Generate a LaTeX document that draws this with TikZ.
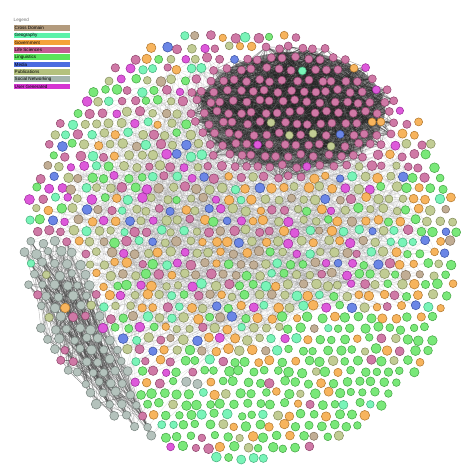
\documentclass[tikz,border=0pt]{standalone}
\usepackage{fontspec}
\setsansfont{Liberation Sans}
\pgfdeclarelayer{paper}
\pgfdeclarelayer{edges}
\pgfsetlayers{paper,edges,main}
\definecolor{cCross}{HTML}{B39B7D}
\definecolor{cGeo}{HTML}{5CF2A9}
\definecolor{cGov}{HTML}{F5A33A}
\definecolor{cLife}{HTML}{C55C92}
\definecolor{cLing}{HTML}{5BE35B}
\definecolor{cMedia}{HTML}{4B6CE0}
\definecolor{cPub}{HTML}{B4C17D}
\definecolor{cSoc}{HTML}{A4B5AD}
\definecolor{cUser}{HTML}{D535D2}
\newcount\nodeK \newcount\cntL \newcount\cntS \newcount\cntC
\newcommand\choosecol[2]{%
  \global\let\ncol\relax
  \foreach \thr/\cc in {#2}{\ifx\ncol\relax\ifdim#1pt<\thr pt\relax\xdef\ncol{\cc}\fi\fi}%
}
\tikzset{
  dot/.style={circle, inner sep=0pt, line width=0.5pt},
  darkedge/.style={draw=black!85, line width=0.35pt, opacity=0.5},
  snedge/.style={draw=black!70, line width=0.35pt, opacity=0.45},
  lightedge/.style={draw=black!45, line width=0.25pt, opacity=0.3},
  legbar/.style={anchor=west, minimum width=56pt, minimum height=5.5pt, inner sep=0pt},
  legtext/.style={font=\sffamily\fontsize{4.6}{5}\selectfont, anchor=west, inner sep=0pt}
}
\begin{document}
\begin{tikzpicture}[x=10pt,y=-10pt]
\begin{pgfonlayer}{paper}
\fill[white] (0,0) rectangle (47.4,46.8);
\end{pgfonlayer}
\useasboundingbox (0,0) rectangle (47.4,46.8);
\pgfmathsetseed{11}
\foreach \j in {0,...,41}{
 \foreach \i in {0,...,37}{
  \pgfmathsetmacro{\px}{1.7+\i*1.24+mod(\j,2)*0.62+0.22*rand}
  \pgfmathsetmacro{\py}{2.6+\j*1.08+0.18*rand}
  \pgfmathsetmacro{\dd}{(\px-24)^2+(\py-24.4)^2}
  \ifdim\dd pt<470pt\relax
    \pgfmathsetmacro{\rr}{rnd}
    \pgfmathsetmacro{\ellv}{((\px-29.3)/10.6)^2+((\py-11)/6.9)^2}
    \pgfmathsetmacro{\snb}{7.8+(\py-24)*0.4}
    \def\reg{0}%
    \ifdim\ellv pt<1pt\relax \def\reg{1}\else
      \ifdim\py pt>23.5pt\relax \ifdim\px pt<\snb pt\relax \def\reg{2}\fi\fi
      \ifnum\reg=0
        \ifdim\py pt>36pt\relax \def\reg{3}\fi
        \ifdim\py pt>31pt\relax \ifdim\px pt>28pt\relax \def\reg{3}\fi\fi
        \ifnum\reg=3 \ifdim\px pt<21pt\relax \def\reg{4}\fi\fi
      \fi
      \ifnum\reg=0
        \ifdim\px pt>37pt\relax \def\reg{5}\fi
        \ifdim\py pt<24pt\relax \ifdim\px pt<20pt\relax \def\reg{6}\fi\fi
        \ifdim\py pt<17pt\relax \ifdim\px pt>19.99pt\relax \def\reg{7}\fi\fi
      \fi
    \fi
    \ifcase\reg
      \choosecol{\rr}{0.24/cPub,0.44/cGov,0.55/cLing,0.65/cGeo,0.75/cCross,0.83/cLife,0.91/cUser,1.1/cMedia}%
    \or
      \choosecol{\rr}{0.90/cLife,0.93/cGov,0.955/cPub,0.975/cMedia,0.99/cUser,1.1/cGeo}%
    \or
      \choosecol{\rr}{0.76/cSoc,0.88/cLife,0.92/cPub,0.95/cGov,0.98/cGeo,1.1/cUser}%
    \or
      \choosecol{\rr}{0.62/cLing,0.80/cGov,0.87/cGeo,0.93/cPub,0.96/cLife,0.98/cCross,1.1/cUser}%
    \or
      \choosecol{\rr}{0.40/cLing,0.66/cLife,0.74/cUser,0.86/cGov,0.91/cGeo,0.95/cSoc,1.1/cPub}%
    \or
      \choosecol{\rr}{0.33/cPub,0.58/cGov,0.8/cLing,0.87/cGeo,0.92/cMedia,0.96/cCross,1.1/cLife}%
    \or
      \choosecol{\rr}{0.28/cPub,0.46/cLife,0.56/cLing,0.68/cGeo,0.78/cGov,0.85/cMedia,0.92/cCross,1.1/cUser}%
    \or
      \choosecol{\rr}{0.55/cLife,0.72/cGov,0.83/cPub,0.89/cGeo,0.94/cLing,1.1/cUser}%
    \fi
    \ifnum\reg=1 \def\sz{8}\else\pgfmathsetmacro{\sz}{7.4+2.6*rnd}\fi
    \global\advance\nodeK by 1\relax
    \edef\nm{n\the\nodeK}%
    \node[dot, fill=\ncol!82!white, draw=\ncol!72!black, minimum size=\sz pt] (\nm) at (\px,\py) {};
    \ifnum\reg=1 \global\advance\cntL by 1\relax \expandafter\xdef\csname L@\the\cntL\endcsname{\nm}\fi
    \ifnum\reg=2 \global\advance\cntS by 1\relax \expandafter\xdef\csname S@\the\cntS\endcsname{\nm}\fi
    \ifdim\dd pt<380pt\relax
      \ifnum\reg=0 \global\advance\cntC by 1\relax \expandafter\xdef\csname C@\the\cntC\endcsname{\nm}\fi
      \ifnum\reg>4 \global\advance\cntC by 1\relax \expandafter\xdef\csname C@\the\cntC\endcsname{\nm}\fi
    \fi
  \fi
 }
}
\edef\NL{\the\cntL}\edef\NS{\the\cntS}\edef\NC{\the\cntC}
\begin{pgfonlayer}{edges}
 \fill[black!85, opacity=0.55] (29.3,11) ellipse [x radius=9.2, y radius=5.8];
 \pgfmathtruncatemacro{\ne}{\NL*9}
 \foreach \k in {1,...,\ne}{
   \pgfmathrandominteger{\ra}{1}{\NL}\pgfmathrandominteger{\rb}{1}{\NL}
   \edef\na{\csname L@\ra\endcsname}\edef\nb{\csname L@\rb\endcsname}
   \draw[darkedge] (\na.center) -- (\nb.center);
 }
 \pgfmathtruncatemacro{\ne}{\NS*5}
 \foreach \k in {1,...,\ne}{
   \pgfmathrandominteger{\ra}{1}{\NS}\pgfmathrandominteger{\rb}{1}{\NS}
   \edef\na{\csname S@\ra\endcsname}\edef\nb{\csname S@\rb\endcsname}
   \draw[snedge] (\na.center) -- (\nb.center);
 }
 \pgfmathtruncatemacro{\ne}{\NC*2}
 \foreach \k in {1,...,\ne}{
   \pgfmathrandominteger{\ra}{1}{\NC}\pgfmathrandominteger{\rb}{1}{\NC}
   \edef\na{\csname C@\ra\endcsname}\edef\nb{\csname C@\rb\endcsname}
   \draw[lightedge] (\na.center) -- (\nb.center);
 }
 \foreach \k in {1,...,250}{
   \pgfmathrandominteger{\ra}{1}{\NL}\pgfmathrandominteger{\rb}{1}{\NC}
   \edef\na{\csname L@\ra\endcsname}\edef\nb{\csname C@\rb\endcsname}
   \draw[lightedge] (\na.center) -- (\nb.center);
 }
 \foreach \k in {1,...,100}{
   \pgfmathrandominteger{\ra}{1}{\NS}\pgfmathrandominteger{\rb}{1}{\NC}
   \edef\na{\csname S@\ra\endcsname}\edef\nb{\csname C@\rb\endcsname}
   \draw[lightedge] (\na.center) -- (\nb.center);
 }
\end{pgfonlayer}
\node[legtext, text=black!55] (legtitle) at (1.35,2.0) {Legend};
\foreach \lab/\cc [count=\q] in {Cross Domain/cCross, Geography/cGeo, Government/cGov, Life Sciences/cLife, Linguistics/cLing, Media/cMedia, Publications/cPub, Social Networking/cSoc, User Generated/cUser}{
  \pgfmathsetmacro{\ly}{2.8+(\q-1)*0.73}
  \node[legbar, fill=\cc] (leg\q) at (1.33,\ly) {};
  \node[legtext] (legt\q) at (1.45,\ly) {\lab};
}
\end{tikzpicture}
\end{document}
